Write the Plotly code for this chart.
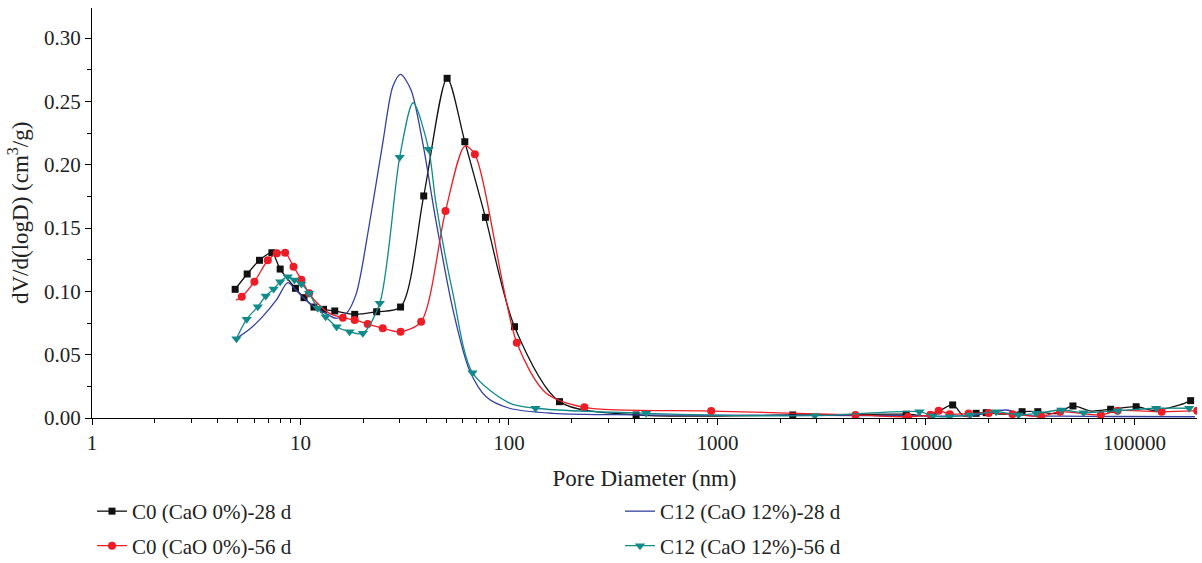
import plotly.graph_objects as go

# ---------------- data ----------------
c0_28_x = [4.86, 5.55, 6.36, 7.29, 7.99, 9.46, 10.4, 11.6, 12.9, 14.6, 18.2, 23.2, 30.2, 39.0, 50.5,
           61.4, 77.1, 106.3, 174.7, 407, 2297, 8035, 10500, 13430, 15200, 17400, 19450, 23500,
           28900, 34400, 42000, 50700, 62000, 76900, 101900, 125000, 165000, 186000]
c0_28_y = [0.1016, 0.1137, 0.1245, 0.1305, 0.1176, 0.1024, 0.0950, 0.0876, 0.0858, 0.0845, 0.0818,
           0.0839, 0.0876, 0.1753, 0.2682, 0.2181, 0.1584, 0.0721, 0.0129, 0.0024, 0.0024, 0.0030,
           0.0020, 0.0103, 0.0015, 0.0037, 0.0042, 0.0030, 0.0050, 0.0050, 0.0035, 0.0095, 0.0055,
           0.0069, 0.0089, 0.0060, 0.0103, 0.0137]
c0_28_marked = [1] * 15 + [1, 1, 1, 1, 1, 1, 1, 0, 1, 0, 1, 1, 0, 1, 1, 0, 1, 0, 1, 1, 0, 0, 1]

c0_56_x = [4.9, 5.23, 6.01, 6.97, 7.70, 8.44, 9.26, 10.1, 11.0, 12.5, 14.0, 15.96, 18.2, 21.0, 24.8,
           30.2, 37.9, 49.6, 61.4, 68.6, 109, 150, 230, 933, 4590, 8200, 10500, 11500, 13000, 16000,
           20000, 26000, 35700, 44000, 69000, 83000, 135000, 200000]
c0_56_y = [0.0930, 0.0958, 0.1076, 0.1245, 0.1300, 0.1305, 0.1195, 0.1092, 0.0984, 0.0880, 0.0820,
           0.0792, 0.0774, 0.0742, 0.0708, 0.0681, 0.0760, 0.1634, 0.2147, 0.2082, 0.0594, 0.0200,
           0.0084, 0.0055, 0.0024, 0.0010, 0.0026, 0.0058, 0.0030, 0.0035, 0.0040, 0.0030, 0.0013,
           0.0050, 0.0024, 0.0058, 0.0050, 0.0058]
c0_56_marked = [0, 1, 1, 1, 1, 1, 1, 1, 1, 0, 0, 1, 1, 1, 1, 1, 1, 1, 0, 1, 1, 0, 1, 1, 1, 1, 1, 1,
                1, 1, 1, 1, 1, 1, 1, 1, 1, 1]

c12_28_x = [4.86, 5.69, 6.58, 7.65, 8.69, 9.5, 10.4, 11.8, 13.2, 14.8, 16.6, 18.5, 21.3, 24.8, 27.7,
            30.2, 33.9, 38.6, 44.6, 53.9, 64.6, 77.7, 100.5, 162, 400, 1000, 3000, 8000, 12000,
            17000, 24300, 30000, 45000, 80000, 195000]
c12_28_y = [0.0621, 0.0700, 0.0800, 0.0930, 0.1068, 0.1010, 0.0945, 0.0870, 0.0826, 0.0787, 0.0826,
            0.0980, 0.1510, 0.2170, 0.2615, 0.2713, 0.2590, 0.2170, 0.1560, 0.0853, 0.0379, 0.0168,
            0.0077, 0.0037, 0.0025, 0.0022, 0.0020, 0.0018, 0.0015, 0.0020, 0.0063, 0.0020, 0.0015,
            0.0012, 0.0010]

c12_56_x = [4.93, 5.52, 6.24, 6.81, 7.43, 7.99, 8.69, 9.35, 10.1, 11.0, 12.1, 13.2, 14.9, 17.2, 19.9,
            24.0, 29.9, 34.7, 41.2, 44.6, 53.9, 66.8, 100, 134, 455, 2930, 9300, 10800, 13000, 16300,
            21700, 27800, 33800, 44600, 57000, 83000, 127000, 183000]
c12_56_y = [0.0626, 0.0780, 0.0879, 0.0963, 0.1018, 0.1076, 0.1116, 0.1090, 0.1058, 0.0984, 0.0866,
            0.0800, 0.0721, 0.0681, 0.0669, 0.0906, 0.2058, 0.2489, 0.2121, 0.1700, 0.0980, 0.0358,
            0.0120, 0.0077, 0.0037, 0.0018, 0.0050, 0.0015, 0.0010, 0.0024, 0.0050, 0.0024, 0.0037,
            0.0063, 0.0042, 0.0058, 0.0077, 0.0077]
c12_56_marked = [1] * 17 + [0, 1, 0, 0, 1, 0] + [1] * 15

x_tickvals = [1, 10, 100, 1000, 10000, 100000]
x_ticktext = ["1", "10", "100", "1000", "10000", "100000"]
x_title = "Pore Diameter (nm)"
y_title = "dV/d(logD) (cm<sup>3</sup>/g)"

FONT = "Liberation Serif"
FS_TICK = 21
FS_TITLE = 23
FS_LEG = 21
TXT = "#222"

series = [
    dict(name="C0 (CaO 0%)-28 d", x=c0_28_x, y=c0_28_y, marked=c0_28_marked,
         color="#111111", symbol="square", size=7, legend="legend", lx=92, ly=511.5),
    dict(name="C12 (CaO 12%)-28 d", x=c12_28_x, y=c12_28_y, marked=None,
         color="#3340a0", symbol=None, size=0, legend="legend2", lx=620, ly=511.5),
    dict(name="C0 (CaO 0%)-56 d", x=c0_56_x, y=c0_56_y, marked=c0_56_marked,
         color="#ee1c25", symbol="circle", size=8, legend="legend3", lx=92, ly=546),
    dict(name="C12 (CaO 12%)-56 d", x=c12_56_x, y=c12_56_y, marked=c12_56_marked,
         color="#138a8a", symbol="triangle-down", size=9, legend="legend4", lx=620, ly=546),
]

fig = go.Figure()
W, H = 1202, 563
legends = {}
for s in series:
    if s["marked"] is not None:
        sizes = [s["size"] if m else 0 for m in s["marked"]]
        fig.add_trace(go.Scatter(
            x=s["x"], y=s["y"], mode="lines+markers", showlegend=False,
            line=dict(color=s["color"], width=1.3, shape="spline", smoothing=0.8),
            marker=dict(symbol=s["symbol"], size=sizes, color=s["color"], opacity=1,
                        line=dict(width=0)),
            hoverinfo="skip"))
        fig.add_trace(go.Scatter(
            x=[None], y=[None], mode="lines+markers", name=s["name"], legend=s["legend"],
            line=dict(color=s["color"], width=1.3),
            marker=dict(symbol=s["symbol"], size=s["size"], color=s["color"], opacity=1)))
    else:
        fig.add_trace(go.Scatter(
            x=s["x"], y=s["y"], mode="lines", name=s["name"], legend=s["legend"],
            line=dict(color=s["color"], width=1.3, shape="spline", smoothing=0.8)))
    legends[s["legend"]] = dict(
        xref="container", yref="container", x=s["lx"] / W, y=1 - s["ly"] / H,
        xanchor="left", yanchor="middle", bgcolor="rgba(0,0,0,0)",
        font=dict(family=FONT, size=FS_LEG, color=TXT))

fig.update_layout(
    width=W, height=H,
    margin=dict(l=92, r=5, t=8, b=145, autoexpand=False),
    paper_bgcolor="white", plot_bgcolor="white",
    font=dict(family=FONT, size=FS_TICK, color=TXT),
    xaxis=dict(
        type="log", range=[0, 5.30],
        tickvals=x_tickvals, ticktext=x_ticktext, tickangle=0,
        tickfont=dict(family=FONT, size=FS_TICK, color=TXT),
        showline=True, linecolor="black", linewidth=1, mirror=False,
        ticks="outside", ticklen=6, tickcolor="black", showgrid=False, zeroline=False,
        minor=dict(ticks="outside", ticklen=4, tickcolor="black", dtick="D1", showgrid=False),
        title=dict(text=x_title, standoff=15, font=dict(family=FONT, size=FS_TITLE, color=TXT)),
    ),
    yaxis=dict(
        range=[0, 0.3237], dtick=0.05, tick0=0, tickformat=".2f",
        tickfont=dict(family=FONT, size=FS_TICK, color=TXT),
        showline=True, linecolor="black", linewidth=1, mirror=False,
        ticks="outside", ticklen=6, tickcolor="black", showgrid=False, zeroline=False,
        minor=dict(ticks="outside", ticklen=4, tickcolor="black", dtick=0.025, showgrid=False),
    ),
    annotations=[dict(
        text=y_title, textangle=-90, xref="paper", yref="paper",
        x=(18 - 92) / (W - 92 - 5), y=0.5, xanchor="center", yanchor="middle",
        showarrow=False, font=dict(family=FONT, size=FS_TITLE, color=TXT))],
    **legends,
)

fig.write_html("out.html")
